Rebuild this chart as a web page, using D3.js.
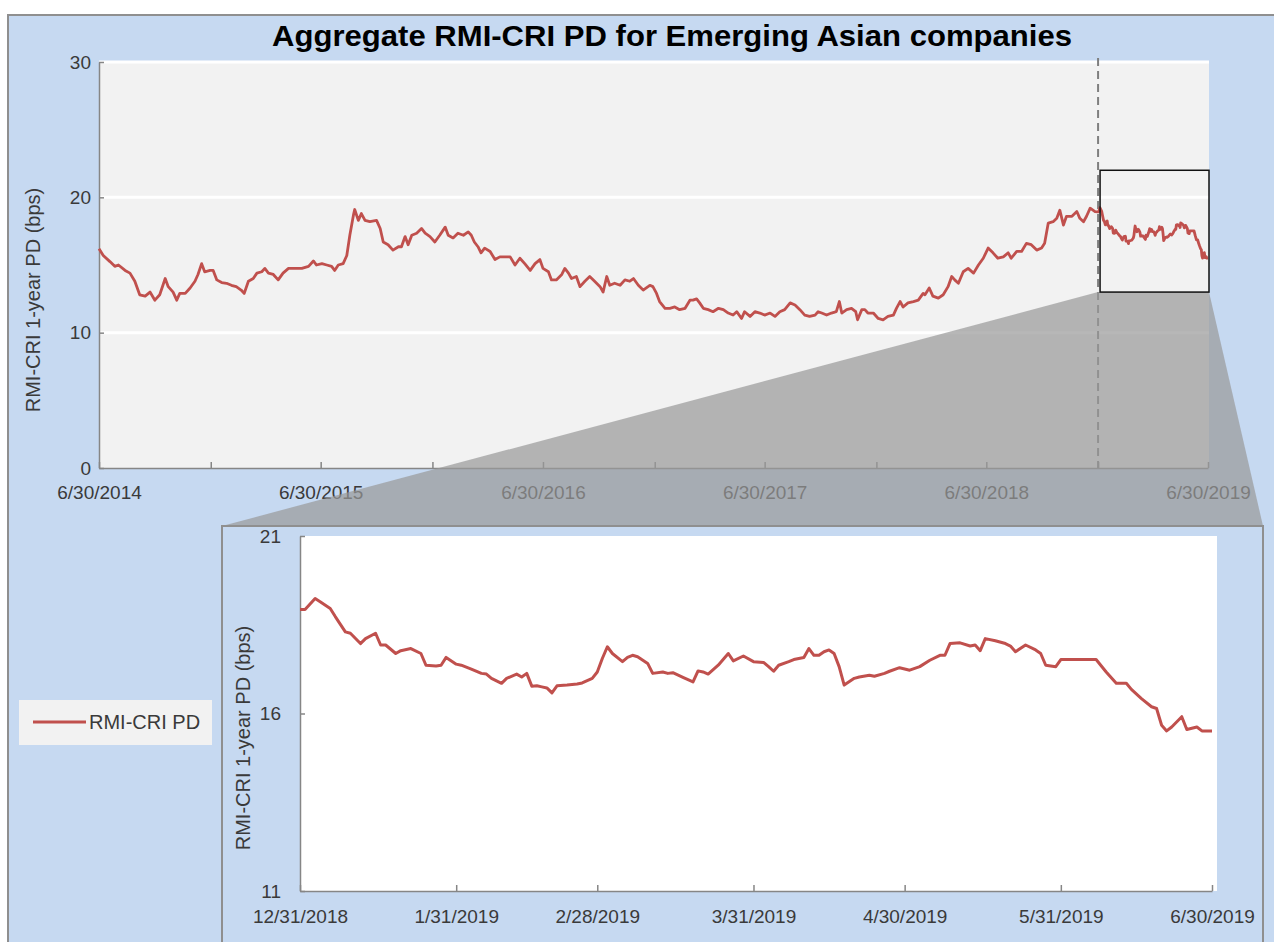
<!DOCTYPE html>
<html>
<head>
<meta charset="utf-8">
<script src="https://cdn.jsdelivr.net/npm/d3@7"></script>
<style>
  body { margin: 0; background: #fff; }
  svg text { font-family: "Liberation Sans", Arial, sans-serif; }
</style>
</head>
<body>
<svg id="chart" width="1274" height="942"></svg>
<script>
const chartTitle = "Aggregate RMI-CRI PD for Emerging Asian companies";
const yTitle = "RMI-CRI 1-year PD (bps)";
const seriesName = "RMI-CRI PD";

// 6/30/2014 - 12/26/2018
const histDates = ["2014-06-30","2014-07-07","2014-07-18","2014-07-26","2014-08-01","2014-08-12","2014-08-20","2014-08-28","2014-09-05","2014-09-14","2014-09-22","2014-09-30","2014-10-08","2014-10-17","2014-10-22","2014-10-30","2014-11-05","2014-11-10","2014-11-19","2014-11-27","2014-12-05","2014-12-10","2014-12-16","2014-12-21","2014-12-30",
  "2015-01-04","2015-01-10","2015-01-18","2015-01-26","2015-02-03","2015-02-11","2015-02-19","2015-02-24","2015-03-03","2015-03-11","2015-03-17","2015-03-25","2015-03-30","2015-04-05","2015-04-13","2015-04-21","2015-04-29","2015-05-08","2015-05-19","2015-05-30","2015-06-10","2015-06-18","2015-06-23","2015-07-02","2015-07-10","2015-07-18","2015-07-23","2015-07-29","2015-08-06","2015-08-12","2015-08-17","2015-08-23","2015-08-25","2015-08-31","2015-09-05","2015-09-11","2015-09-19","2015-09-30","2015-10-06","2015-10-11","2015-10-19","2015-10-27","2015-11-05","2015-11-10","2015-11-16","2015-11-21","2015-11-27","2015-12-05","2015-12-13","2015-12-19","2015-12-27",
  "2016-01-04","2016-01-12","2016-01-21","2016-01-26","2016-02-03","2016-02-11","2016-02-20","2016-02-28","2016-03-04","2016-03-09","2016-03-15","2016-03-20","2016-03-26","2016-04-04","2016-04-12","2016-04-20","2016-04-28","2016-05-07","2016-05-15","2016-05-23","2016-05-31","2016-06-09","2016-06-17","2016-06-25","2016-06-30","2016-07-09","2016-07-14","2016-07-22","2016-07-31","2016-08-05","2016-08-11","2016-08-16","2016-08-24","2016-08-30","2016-09-07","2016-09-15","2016-09-23","2016-10-02","2016-10-07","2016-10-13","2016-10-18","2016-10-26","2016-11-04","2016-11-12","2016-11-20","2016-11-26","2016-12-04","2016-12-12","2016-12-20","2016-12-23","2016-12-28",
  "2017-01-03","2017-01-08","2017-01-17","2017-01-25","2017-02-02","2017-02-10","2017-02-19","2017-02-27","2017-03-04","2017-03-10","2017-03-15","2017-03-21","2017-03-29","2017-04-06","2017-04-15","2017-04-23","2017-05-01","2017-05-09","2017-05-15","2017-05-23","2017-05-28","2017-06-06","2017-06-14","2017-06-22","2017-06-30","2017-07-09","2017-07-17","2017-07-25","2017-08-02","2017-08-11","2017-08-19","2017-08-27","2017-09-04","2017-09-12","2017-09-21","2017-09-26","2017-10-02","2017-10-10","2017-10-18","2017-10-26","2017-10-31","2017-11-04","2017-11-12","2017-11-20","2017-11-27","2017-11-30","2017-12-07","2017-12-12","2017-12-17","2017-12-26",
  "2018-01-03","2018-01-11","2018-01-19","2018-01-28","2018-02-02","2018-02-08","2018-02-13","2018-02-21","2018-03-02","2018-03-10","2018-03-18","2018-03-21","2018-03-28","2018-04-03","2018-04-12","2018-04-20","2018-04-28","2018-05-04","2018-05-09","2018-05-15","2018-05-23","2018-05-31","2018-06-09","2018-06-17","2018-06-25","2018-07-03","2018-07-11","2018-07-19","2018-07-28","2018-08-05","2018-08-10","2018-08-19","2018-08-27","2018-09-04","2018-09-12","2018-09-21","2018-09-29","2018-10-04","2018-10-10","2018-10-18","2018-10-24","2018-10-29","2018-11-04","2018-11-09","2018-11-18","2018-11-26","2018-12-01","2018-12-07","2018-12-12","2018-12-18","2018-12-26"];
const histPd = [16.2,15.7,15.25,14.9,15.0,14.6,14.4,13.8,12.8,12.7,13.0,12.4,12.8,14.0,13.4,13.0,12.4,12.9,12.9,13.3,13.8,14.3,15.1,14.5,14.6,
  14.6,13.9,13.7,13.65,13.5,13.4,13.15,12.9,13.8,14.0,14.4,14.5,14.75,14.4,14.3,13.9,14.4,14.75,14.75,14.75,14.9,15.3,15.0,15.1,15.0,14.9,14.6,15.0,15.1,15.7,17.2,18.7,19.1,18.3,18.8,18.3,18.2,18.3,17.7,16.7,16.5,16.1,16.35,16.35,17.1,16.5,17.2,17.35,17.7,17.35,17.1,
  16.7,17.2,17.8,17.2,17.0,17.35,17.2,17.45,17.2,16.7,16.35,15.9,16.25,16.0,15.4,15.6,15.6,15.6,15.0,15.5,15.1,14.6,15.1,15.4,14.75,14.5,13.9,13.9,14.3,14.75,14.4,14.0,14.15,13.4,13.8,14.15,13.8,13.4,13.0,14.15,13.5,13.65,13.5,13.9,13.8,14.0,13.5,13.15,13.4,13.5,13.4,
  12.9,12.3,11.8,11.8,11.9,11.7,11.8,12.4,12.4,12.5,12.2,11.8,11.7,11.55,11.8,11.7,11.45,11.3,11.55,11.05,11.55,11.2,11.55,11.45,11.3,11.45,11.2,11.55,11.7,12.2,12.05,11.7,11.3,11.2,11.3,11.55,11.45,11.3,11.45,11.55,12.3,11.45,11.7,11.8,11.55,10.95,11.7,11.7,11.45,11.45,
  11.05,10.95,11.2,11.3,11.8,12.3,11.9,12.2,12.3,12.4,12.9,12.8,13.3,12.7,12.55,12.8,13.4,14.15,13.9,13.65,14.5,14.75,14.4,15.0,15.5,16.25,15.9,15.5,15.6,15.9,15.5,16.0,16.0,16.6,16.5,16.1,16.25,16.6,18.1,18.2,18.45,19.05,17.95,18.6,18.6,18.95,18.45,18.2,18.6,19.2,18.95];

// 12/31/2018 - 6/30/2019
const zoomDates = ["2018-12-31","2019-01-01","2019-01-03","2019-01-04","2019-01-06","2019-01-07","2019-01-09","2019-01-10","2019-01-12","2019-01-13","2019-01-15","2019-01-16","2019-01-17","2019-01-19","2019-01-20","2019-01-22","2019-01-24","2019-01-25","2019-01-27","2019-01-28","2019-01-29","2019-01-31",
  "2019-02-01","2019-02-03","2019-02-05","2019-02-06","2019-02-07","2019-02-09","2019-02-10","2019-02-12","2019-02-13","2019-02-14","2019-02-15","2019-02-16","2019-02-17","2019-02-18","2019-02-19","2019-02-20","2019-02-22","2019-02-24","2019-02-25","2019-02-27","2019-02-28",
  "2019-03-01","2019-03-02","2019-03-03","2019-03-05","2019-03-06","2019-03-07","2019-03-08","2019-03-10","2019-03-11","2019-03-13","2019-03-14","2019-03-15","2019-03-17","2019-03-19","2019-03-20","2019-03-21","2019-03-22","2019-03-24","2019-03-26","2019-03-27","2019-03-29","2019-03-31",
  "2019-04-02","2019-04-03","2019-04-04","2019-04-05","2019-04-07","2019-04-08","2019-04-10","2019-04-11","2019-04-12","2019-04-13","2019-04-14","2019-04-15","2019-04-16","2019-04-17","2019-04-18","2019-04-20","2019-04-21","2019-04-23","2019-04-24","2019-04-26","2019-04-27","2019-04-29",
  "2019-05-01","2019-05-03","2019-05-05","2019-05-07","2019-05-08","2019-05-09","2019-05-11","2019-05-13","2019-05-14","2019-05-15","2019-05-16","2019-05-18","2019-05-20","2019-05-21","2019-05-22","2019-05-24","2019-05-26","2019-05-27","2019-05-28","2019-05-30","2019-05-31",
  "2019-06-03","2019-06-06","2019-06-07","2019-06-09","2019-06-11","2019-06-13","2019-06-14","2019-06-16","2019-06-18","2019-06-19","2019-06-20","2019-06-21","2019-06-22","2019-06-24","2019-06-25","2019-06-27","2019-06-28","2019-06-30"];
const zoomPd = [18.93,18.93,19.24,19.15,18.96,18.73,18.30,18.26,17.97,18.11,18.26,17.93,17.93,17.69,17.77,17.83,17.69,17.36,17.34,17.36,17.58,17.39,
  17.36,17.25,17.13,17.11,16.99,16.85,16.99,17.11,17.03,17.13,16.77,16.78,16.75,16.72,16.58,16.78,16.80,16.83,16.86,16.99,17.17,
  17.55,17.88,17.69,17.46,17.58,17.64,17.60,17.41,17.13,17.17,17.13,17.15,17.02,16.89,17.20,17.17,17.11,17.36,17.69,17.48,17.62,17.46,
  17.44,17.32,17.19,17.36,17.46,17.52,17.58,17.83,17.64,17.64,17.74,17.79,17.69,17.32,16.80,16.99,17.03,17.08,17.05,17.13,17.19,17.29,
  17.22,17.32,17.50,17.64,17.64,17.97,17.99,17.90,17.93,17.77,18.11,18.05,17.97,17.90,17.74,17.93,17.79,17.69,17.36,17.32,17.52,
  17.52,17.52,17.52,17.17,16.85,16.85,16.68,16.42,16.19,16.14,15.67,15.51,15.62,15.91,15.55,15.62,15.51,15.51];

const mainYTicks = [0, 10, 20, 30];
const mainXTicks = ["2014-06-30","2014-12-31","2015-06-30","2015-12-31","2016-06-30","2016-12-31","2017-06-30","2017-12-31","2018-06-30","2018-12-31","2019-06-30"];
const zoomYTicks = [11, 16, 21];
const zoomXTicks = ["2018-12-31","2019-01-31","2019-02-28","2019-03-31","2019-04-30","2019-05-31","2019-06-30"];
const zoomBox = [13, 22];   // y-range of the highlighted window

const parse = d3.timeParse("%Y-%m-%d");
const fmt = d3.timeFormat("%-m/%-d/%Y");
const red = "#c0504d", axisGrey = "#868686", labelGrey = "#3a3a3a";

const hist = histDates.map((d, i) => ({date: parse(d), v: histPd[i]}));
const zoom = zoomDates.map((d, i) => ({date: parse(d), v: zoomPd[i]}));
const full = hist.concat(zoom);

const svg = d3.select("#chart");

// outer panel
svg.append("rect")
  .attr("x", 8).attr("y", 15).attr("width", 1300).attr("height", 960)
  .attr("fill", "#c6d9f1").attr("stroke", "#8f8f8f").attr("stroke-width", 2);

svg.append("text")
  .attr("x", 672).attr("y", 46)
  .attr("text-anchor", "middle")
  .attr("font-size", 29).attr("font-weight", "bold")
  .attr("textLength", 800).attr("lengthAdjust", "spacingAndGlyphs")
  .text(chartTitle);

// ---- full period panel
const m = {left: 99, right: 1209, top: 62, bottom: 468};
const mx = d3.scaleTime()
  .domain([parse("2014-06-30"), parse("2019-06-30")])
  .range([m.left, 1208]);
const my = d3.scaleLinear().domain([0, 30]).range([m.bottom, m.top]);

svg.append("rect")
  .attr("x", m.left).attr("y", m.top)
  .attr("width", m.right - m.left).attr("height", m.bottom - m.top)
  .attr("fill", "#f2f2f2");

svg.append("g").selectAll("line")
  .data(mainYTicks.filter(t => t > 0))
  .enter().append("line")
    .attr("x1", m.left).attr("x2", m.right)
    .attr("y1", d => my(d)).attr("y2", d => my(d))
    .attr("stroke", "#fff").attr("stroke-width", 3);

const styleAxis = (g, size) => {
  g.attr("font-family", null).attr("font-size", size);
  g.select(".domain").attr("stroke", axisGrey).attr("stroke-width", 1.5);
  g.selectAll(".tick line").attr("stroke", axisGrey).attr("stroke-width", 1.5);
  g.selectAll(".tick text").attr("fill", labelGrey);
};

svg.append("g")
  .attr("transform", "translate(0," + m.bottom + ")")
  .call(d3.axisBottom(mx)
    .tickValues(mainXTicks.map(parse))
    .tickFormat(d => d.getMonth() === 5 ? fmt(d) : "")
    .tickSizeInner(-6).tickSizeOuter(0).tickPadding(18))
  .call(g => styleAxis(g, 19));

svg.append("g")
  .attr("transform", "translate(" + m.left + ",0)")
  .call(d3.axisLeft(my)
    .tickValues(mainYTicks)
    .tickSizeInner(-5).tickSizeOuter(0).tickPadding(8))
  .call(g => styleAxis(g, 19));

svg.append("text")
  .attr("transform", "translate(40,300) rotate(-90)")
  .attr("text-anchor", "middle")
  .attr("font-size", 20).attr("fill", labelGrey)
  .text(yTitle);

const zStart = parse(zoomDates[0]), zEnd = parse(zoomDates[zoomDates.length - 1]);

svg.append("line")
  .attr("x1", mx(zStart)).attr("x2", mx(zStart))
  .attr("y1", m.top - 4).attr("y2", m.bottom)
  .attr("stroke", "#7f7f7f").attr("stroke-width", 2)
  .attr("stroke-dasharray", "8,5");

svg.append("path")
  .datum(full)
  .attr("fill", "none").attr("stroke", red).attr("stroke-width", 2.8)
  .attr("stroke-linejoin", "round")
  .attr("d", d3.line().x(d => mx(d.date)).y(d => my(d.v)));

// ---- zoomed panel geometry
const z = {left: 300, right: 1217, top: 536, bottom: 891};
const panel = {left: 222, right: 1263, top: 526};

svg.append("polygon")
  .attr("points", [
    [mx(zStart), my(zoomBox[0])],
    [mx(zEnd) + 1, my(zoomBox[0])],
    [panel.right, panel.top],
    [panel.left, panel.top]
  ].map(p => p.join(",")).join(" "))
  .attr("fill", "#999999").attr("fill-opacity", 0.7);

svg.append("rect")
  .attr("x", mx(zStart) + 2).attr("y", my(zoomBox[1]))
  .attr("width", mx(zEnd) + 1 - mx(zStart) - 2)
  .attr("height", my(zoomBox[0]) - my(zoomBox[1]))
  .attr("fill", "none").attr("stroke", "#111").attr("stroke-width", 1.5);

svg.append("rect")
  .attr("x", panel.left).attr("y", panel.top)
  .attr("width", panel.right - panel.left).attr("height", 500)
  .attr("fill", "#c6d9f1").attr("stroke", "#8f8f8f").attr("stroke-width", 2);

const zx = d3.scaleTime().domain([zStart, zEnd]).range([z.left, 1212]);
const zy = d3.scaleLinear().domain([11, 21]).range([z.bottom, z.top]);

svg.append("rect")
  .attr("x", z.left).attr("y", z.top)
  .attr("width", z.right - z.left).attr("height", z.bottom - z.top)
  .attr("fill", "#fff");

svg.append("g")
  .attr("transform", "translate(0," + z.bottom + ")")
  .call(d3.axisBottom(zx)
    .tickValues(zoomXTicks.map(parse))
    .tickFormat(fmt)
    .tickSizeInner(-6).tickSizeOuter(0).tickPadding(19))
  .call(g => styleAxis(g, 19));

svg.append("g")
  .attr("transform", "translate(" + z.left + ",0)")
  .call(d3.axisLeft(zy)
    .tickValues(zoomYTicks)
    .tickSizeInner(-5).tickSizeOuter(0).tickPadding(19))
  .call(g => styleAxis(g, 19));

svg.append("text")
  .attr("transform", "translate(250,738) rotate(-90)")
  .attr("text-anchor", "middle")
  .attr("font-size", 20).attr("fill", labelGrey)
  .text(yTitle);

svg.append("path")
  .datum(zoom)
  .attr("fill", "none").attr("stroke", red).attr("stroke-width", 3)
  .attr("stroke-linejoin", "round")
  .attr("d", d3.line().x(d => zx(d.date)).y(d => zy(d.v)));

// ---- legend
const legend = svg.append("g").attr("transform", "translate(19,700)");
legend.append("rect").attr("width", 193).attr("height", 45).attr("fill", "#f2f2f2");
legend.append("line")
  .attr("x1", 14).attr("x2", 67).attr("y1", 22).attr("y2", 22)
  .attr("stroke", red).attr("stroke-width", 3);
legend.append("text")
  .attr("x", 70).attr("y", 29)
  .attr("font-size", 20).attr("fill", labelGrey)
  .text(seriesName);
</script>
</body>
</html>
